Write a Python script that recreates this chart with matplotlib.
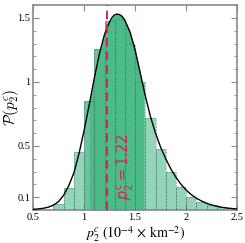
import numpy as np
import matplotlib
matplotlib.use("Agg")
import matplotlib.pyplot as plt
from matplotlib.patches import Rectangle
from matplotlib.ticker import MultipleLocator, FixedLocator

plt.rcParams['font.family'] = ['Liberation Serif', 'DejaVu Serif']
plt.rcParams['mathtext.fontset'] = 'stix'

# histogram (bin left edges, width 0.1)
bin_left = [0.7, 0.8, 0.9, 1.0, 1.1, 1.2, 1.3, 1.4, 1.5, 1.6, 1.7, 1.8, 1.9, 2.0, 2.1, 2.2, 2.3]
bin_height = [0.047, 0.169, 0.456, 0.854, 1.255, 1.479, 1.49, 1.297, 1.003,
              0.716, 0.477, 0.30, 0.182, 0.104, 0.065, 0.039, 0.021]

# smooth density curve
curve_x = [0.50, 0.55, 0.60, 0.65, 0.70, 0.75, 0.80, 0.85, 0.90, 0.95, 1.00, 1.05,
           1.10, 1.15, 1.20, 1.25, 1.275, 1.30, 1.325, 1.35, 1.375, 1.40, 1.45, 1.50,
           1.55, 1.60, 1.65, 1.70, 1.75, 1.80, 1.85, 1.90, 1.95, 2.00, 2.05, 2.10,
           2.15, 2.20, 2.25, 2.30, 2.35, 2.40, 2.45, 2.50]
curve_y = [0.005, 0.008, 0.013, 0.022, 0.038, 0.065, 0.115, 0.19, 0.29, 0.44, 0.62, 0.82,
           1.03, 1.22, 1.37, 1.47, 1.505, 1.525, 1.53, 1.525, 1.51, 1.48, 1.39, 1.25,
           1.07, 0.89, 0.73, 0.60, 0.49, 0.40, 0.32, 0.255, 0.20, 0.155, 0.12, 0.092,
           0.07, 0.052, 0.039, 0.029, 0.021, 0.015, 0.011, 0.008]

xticks = [0.5, 1.0, 1.5, 2.0, 2.5]
xtick_labels = ['0.5', '1', '1.5', '2', '2.5']
yticks = [0.1, 0.5, 1.0, 1.5]
ytick_labels = ['0.1', '0.5', '1', '1.5']

best_fit = 1.22
ci_lo, ci_hi = 1.06, 1.58      # shaded interval under the curve
mid_lo, mid_hi = 1.0, 1.6      # bins drawn a bit darker

width = 0.1
light = '#93d5b7'
medium = '#6cc49e'
dark = '#4dba89'
red = '#dc1f55'
grey = '#8a8a8a'

fig = plt.figure(figsize=(2.45, 2.43), dpi=100)
ax = fig.add_axes([0.135, 0.136, 0.833, 0.843])

colors = [medium if (b >= mid_lo - 1e-9 and b < mid_hi - 1e-9) else light for b in bin_left]
ax.bar(bin_left, bin_height, width=width, align='edge', color=colors, linewidth=0, zorder=1)

fill = ax.fill_between(curve_x, 0, curve_y, color=dark, linewidth=0, zorder=2)
clip = Rectangle((ci_lo, 0), ci_hi - ci_lo, 2, transform=ax.transData)
fill.set_clip_path(clip)

# dashed bin edges on top
ax.bar(bin_left, bin_height, width=width, align='edge', facecolor='none',
       edgecolor='#3d5e50', linewidth=0.6, linestyle=(0, (2.5, 1.5)), alpha=0.5, zorder=3)

ax.plot(curve_x, curve_y, color='black', linewidth=1.0, zorder=4)

ax.axvline(best_fit, color=red, linewidth=1.4, dashes=(4.5, 2.5), zorder=5)
ax.text(1.41, 0.34, r'$p_2^c = 1.22$', rotation=90, color=red, fontsize=10.5,
        ha='center', va='center', math_fontfamily='dejavusans', zorder=6)

ax.set_xlim(0.5, 2.5)
ax.set_ylim(0, 1.6)
ax.xaxis.set_major_locator(FixedLocator(xticks))
ax.yaxis.set_major_locator(FixedLocator(yticks))
ax.yaxis.set_minor_locator(MultipleLocator(0.1))
ax.set_xticklabels(xtick_labels)
ax.set_yticklabels(ytick_labels)

ax.tick_params(which='both', direction='in', top=True, right=True, color=grey,
               labelsize=7.5, pad=2)
ax.tick_params(which='major', length=4, width=0.8)
ax.tick_params(which='minor', length=2, width=0.6)
for s in ax.spines.values():
    s.set_color(grey)
    s.set_linewidth(1.2)

ax.set_xlabel(r'$p_2^c\ (10^{-4}\, \times\, \mathrm{km}^{-2})$', fontsize=10, labelpad=2)
ax.set_ylabel(r'$\mathcal{P}(p_2^c)$', fontsize=11, math_fontfamily='cm')
ax.yaxis.set_label_coords(-0.06, 0.5)

fig.savefig('out.png', dpi=100)
